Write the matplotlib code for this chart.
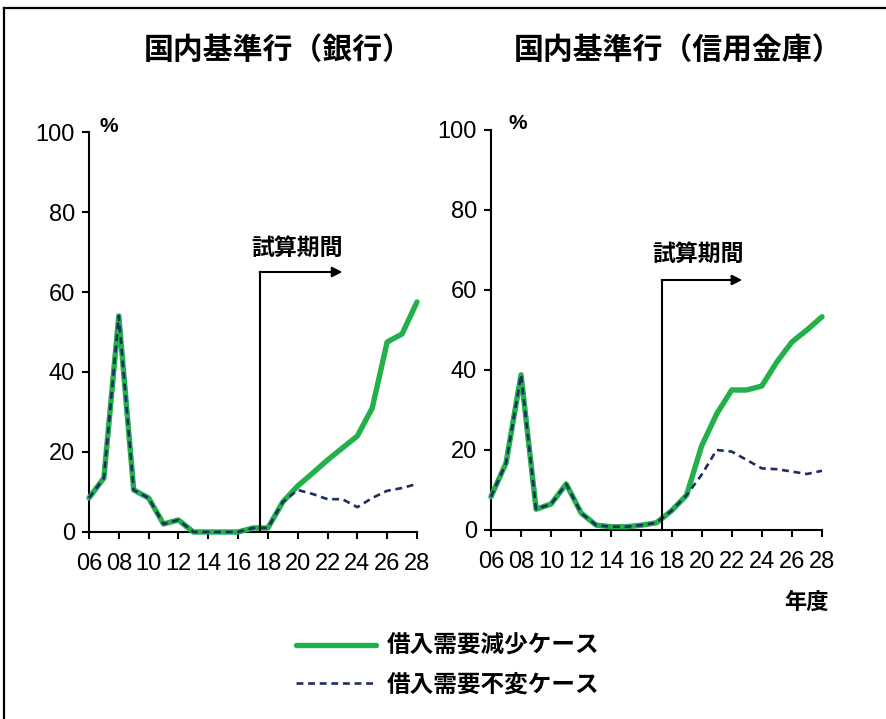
import matplotlib
matplotlib.use("Agg")
import matplotlib.pyplot as plt
from matplotlib.lines import Line2D

plt.rcParams['font.family'] = ['Liberation Sans', 'Noto Sans CJK JP']
JP = ['Noto Sans CJK JP', 'DejaVu Sans']

# fiscal years 2006 .. 2028
years = list(range(6, 29))
xtick_years = list(range(6, 29, 2))
xtick_labels = ['%02d' % y for y in xtick_years]

# 国内基準行（銀行）
bank_decline = [8.5, 13.5, 54, 10.5, 8.5, 2, 3, 0, 0, 0, 0, 1, 1,
                7.5, 11.5, 14.7, 18, 21, 24, 31, 47.5, 49.5, 57.5]
bank_flat = [8.5, 13.5, 54, 10.5, 8.5, 2, 3, 0, 0, 0, 0, 1, 1,
             7.5, 10.5, 9.5, 8.2, 8.2, 6.2, 8.5, 10.3, 11, 12]

# 国内基準行（信用金庫）
shinkin_decline = [8.3, 16.7, 38.8, 5.2, 6.5, 11.5, 4.2, 1.2, 0.8, 0.8, 1.2, 1.8, 4.8,
                   8.7, 21, 29, 35, 35, 36, 42, 47, 50, 53.3]
shinkin_flat = [8.3, 16.7, 38.8, 5.2, 6.5, 11.5, 4.2, 1.2, 0.8, 0.8, 1.2, 1.8, 4.8,
                8.7, 13.8, 20, 19.6, 17.5, 15.4, 15.2, 14.6, 14, 14.8]

titles = ['国内基準行（銀行）', '国内基準行（信用金庫）']
legend_labels = ['借入需要減少ケース', '借入需要不変ケース']
period_label = '試算期間'

GREEN = '#22b04b'
NAVY = '#1f2d66'

fig = plt.figure(figsize=(8.87, 7.19), dpi=100)
ax1 = fig.add_axes([0.1003, 0.2601, 0.3698, 0.5563])
ax2 = fig.add_axes([0.5535, 0.2629, 0.3732, 0.5563])

# (axes, decline, flat, arrow x start, arrow x end, arrow y, text y, % x, title x)
panels = [
    (ax1, bank_decline, bank_flat, 17.5, 23.0, 65, 71, 7.3, 0.314),
    (ax2, shinkin_decline, shinkin_flat, 17.4, 22.7, 62.5, 69, 7.75, 0.765),
]

handles = None
for i, (ax, dec, flat, ax0, ax_end, ay, ty, px, tx) in enumerate(panels):
    l1, = ax.plot(years, dec, color=GREEN, lw=3.9, solid_capstyle='round',
                  solid_joinstyle='round', clip_on=False, zorder=3)
    l2, = ax.plot(years, flat, color=NAVY, lw=1.9, dashes=(2.6, 1.8),
                  clip_on=False, zorder=4)
    handles = [l1, l2]

    ax.set_xlim(6, 28)
    ax.set_ylim(0, 100)
    ax.set_xticks(xtick_years)
    ax.set_xticklabels(xtick_labels)
    ax.set_yticks(range(0, 101, 20))
    for s in ['top', 'right']:
        ax.spines[s].set_visible(False)
    for s in ['left', 'bottom']:
        ax.spines[s].set_linewidth(1.5)
        ax.spines[s].set_color('black')
    ax.tick_params(axis='both', direction='out', length=5, width=1.5,
                   labelsize=17, colors='black')
    ax.tick_params(axis='x', pad=10)
    ax.tick_params(axis='y', pad=5)
    ax.set_facecolor('none')

    # 試算期間 arrow
    ax.plot([ax0, ax0], [0, ay], color='black', lw=1.5, zorder=5)
    ax.annotate('', xy=(ax_end, ay), xytext=(ax0 - 0.05, ay),
                arrowprops=dict(arrowstyle='-|>', color='black', lw=1.5,
                                mutation_scale=15, shrinkA=0, shrinkB=0))
    ax.text((ax0 + ax_end) / 2 - 0.3, ty, period_label, family=JP,
            fontsize=16.5, fontweight='bold', ha='center', va='center')

    ax.text(px, 101.5, '%', fontsize=15, fontweight='bold',
            ha='center', va='center', clip_on=False)

    fig.text(tx, 1 - 50 / 719, titles[i], family=JP, fontsize=21.5,
             fontweight='bold', ha='center', va='center')

fig.text(806 / 887, 1 - 602 / 719, '年度', family=JP, fontsize=16,
         fontweight='bold', ha='center', va='center')

fig.legend(handles, legend_labels, loc='center', bbox_to_anchor=(0.505, 0.075),
           frameon=False, prop=dict(family=JP, size=17, weight='bold'),
           handlelength=3.4, handletextpad=0.45, labelspacing=0.6, borderpad=0)

# frame around the figure (top and left visible)
fig.add_artist(Line2D([4 / 887, 1], [1 - 8 / 719, 1 - 8 / 719],
                      color='black', lw=1.6, transform=fig.transFigure))
fig.add_artist(Line2D([4 / 887, 4 / 887], [0, 1 - 8 / 719],
                      color='black', lw=1.6, transform=fig.transFigure))

fig.savefig('out.png', dpi=100, facecolor='white')
